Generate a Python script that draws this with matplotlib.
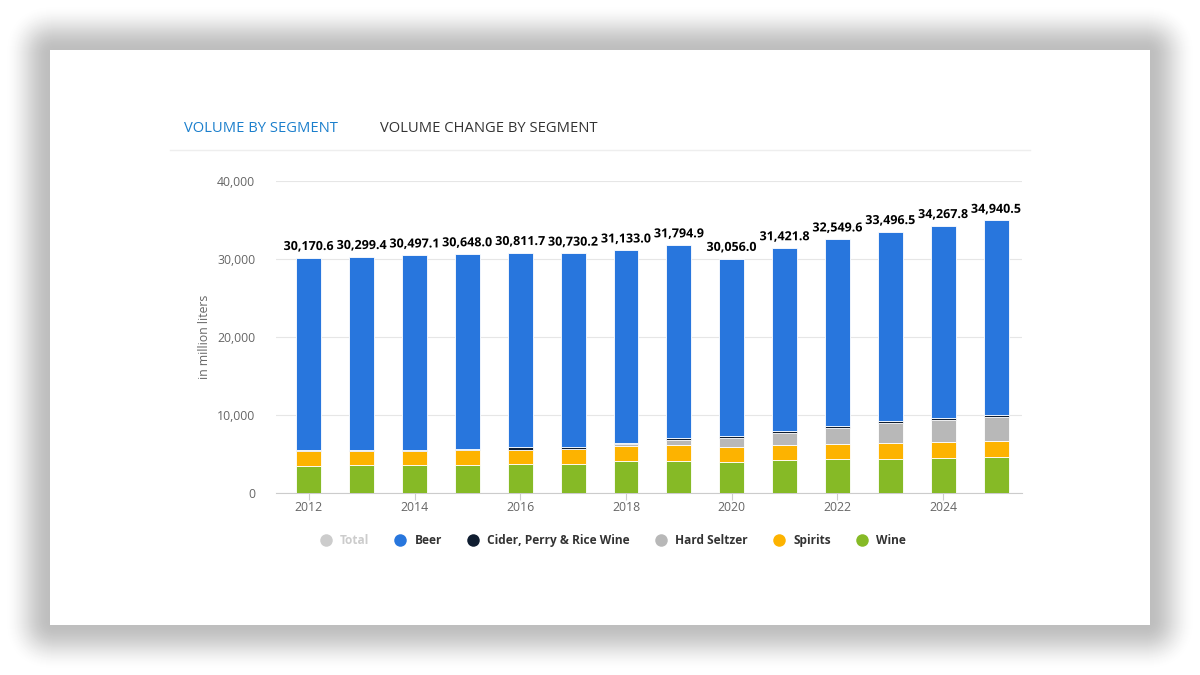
import matplotlib
matplotlib.use("Agg")
import matplotlib.pyplot as plt
from matplotlib.patches import FancyBboxPatch, Rectangle
from matplotlib.lines import Line2D
import matplotlib.patheffects as pe
import numpy as np

plt.rcParams['font.family'] = ['Open Sans', 'DejaVu Sans']

years = list(range(2012, 2026))
totals = [30170.6, 30299.4, 30497.1, 30648.0, 30811.7, 30730.2, 31133.0,
          31794.9, 30056.0, 31421.8, 32549.6, 33496.5, 34267.8, 34940.5]
wine = [3400, 3540, 3540, 3540, 3720, 3720, 4050, 4050, 3970, 4180, 4360, 4360, 4490, 4620]
spirits = [1930, 1790, 1790, 1920, 1830, 1920, 1920, 2050, 1880, 1920, 1920, 2050, 2050, 2050]
seltzer = [0, 0, 0, 0, 0, 0, 250, 700, 1200, 1600, 2000, 2560, 2760, 3030]
cider = [150, 200, 150, 200, 300, 250, 200, 300, 250, 250, 350, 250, 300, 300]
beer = [t - w - s - h - c for t, w, s, h, c in zip(totals, wine, spirits, seltzer, cider)]

col_beer = '#2876dd'
col_cider = '#0f1d30'
col_seltzer = '#b8b8b8'
col_spirits = '#fdb300'
col_wine = '#86ba26'

fig = plt.figure(figsize=(12, 6.75), dpi=100)
fig.patch.set_facecolor('white')

# fondo: tarjeta con sombra suave
bg = fig.add_axes([0, 0, 1, 1])
bg.set_xlim(0, 1200)
bg.set_ylim(675, 0)
bg.axis('off')
for d in range(46, 0, -1):
    t = 1 - d / 46
    g = 255 - (255 - 190) * (t * t * (3 - 2 * t))
    c = (g / 255, g / 255, g / 255)
    bg.add_patch(FancyBboxPatch((50, 50), 1100, 575, boxstyle="round,pad=%d,rounding_size=%d" % (d, d + 8),
                                fc=c, ec='none'))
bg.add_patch(Rectangle((50, 50), 1100, 575, fc='white', ec='none'))

# tabs
fig.text(184 / 1200, 1 - 128 / 675, 'VOLUME BY SEGMENT', color='#1b7fcc', fontsize=10.6,
         va='center', ha='left')
fig.text(380 / 1200, 1 - 128 / 675, 'VOLUME CHANGE BY SEGMENT', color='#333333', fontsize=10.6,
         va='center', ha='left')
bg.plot([170, 1030], [150, 150], color='#eeeeee', lw=1)

ax = fig.add_axes([276 / 1200, 1 - 493 / 675, 746 / 1200, 312 / 675])
x = np.array(years)
w = 0.47
bottom = np.zeros(len(years))
for vals, col in [(wine, col_wine), (spirits, col_spirits), (seltzer, col_seltzer),
                  (cider, col_cider), (beer, col_beer)]:
    ax.bar(x, vals, w, bottom=bottom, color=col, edgecolor='white', linewidth=0.6, zorder=3)
    bottom = bottom + np.array(vals)

for xi, t in zip(x, totals):
    ax.text(xi, t + 600, f'{t:,.1f}', ha='center', va='bottom', fontsize=9,
            fontweight='bold', color='black', zorder=5,
            path_effects=[pe.withStroke(linewidth=2.5, foreground='white')])

ax.set_xlim(2011.38, 2025.49)
ax.set_ylim(0, 40000)
ax.set_yticks([0, 10000, 20000, 30000, 40000])
ax.set_yticklabels(['0', '10,000', '20,000', '30,000', '40,000'])
ax.set_xticks(range(2012, 2026, 2))
ax.grid(axis='y', color='#e6e6e6', lw=0.8, zorder=0)
for s in ['top', 'right', 'left']:
    ax.spines[s].set_visible(False)
ax.spines['bottom'].set_color('#cccccc')
ax.tick_params(axis='y', length=0, pad=15, labelsize=8.8, labelcolor='#666666')
ax.tick_params(axis='x', length=5, color='#cccccc', pad=1, labelsize=8.8, labelcolor='#666666')
ax.set_ylabel('in million liters', fontsize=8.8, color='#666666', labelpad=4)

handles = []
labels = ['Total', 'Beer', 'Cider, Perry & Rice Wine', 'Hard Seltzer', 'Spirits', 'Wine']
colors = ['#cccccc', col_beer, col_cider, col_seltzer, col_spirits, col_wine]
for c in colors:
    handles.append(Line2D([0], [0], marker='o', ls='none', markersize=9, markerfacecolor=c,
                          markeredgecolor='none'))
leg = fig.legend(handles, labels, loc='center', bbox_to_anchor=(610 / 1200, 1 - 540.5 / 675),
                 ncol=6, frameon=False, handletextpad=0.2, columnspacing=1.6,
                 prop={'size': 8.6, 'weight': 'bold'})
for i, txt in enumerate(leg.get_texts()):
    txt.set_color('#cccccc' if i == 0 else '#333333')

fig.savefig('out.png', dpi=100)
